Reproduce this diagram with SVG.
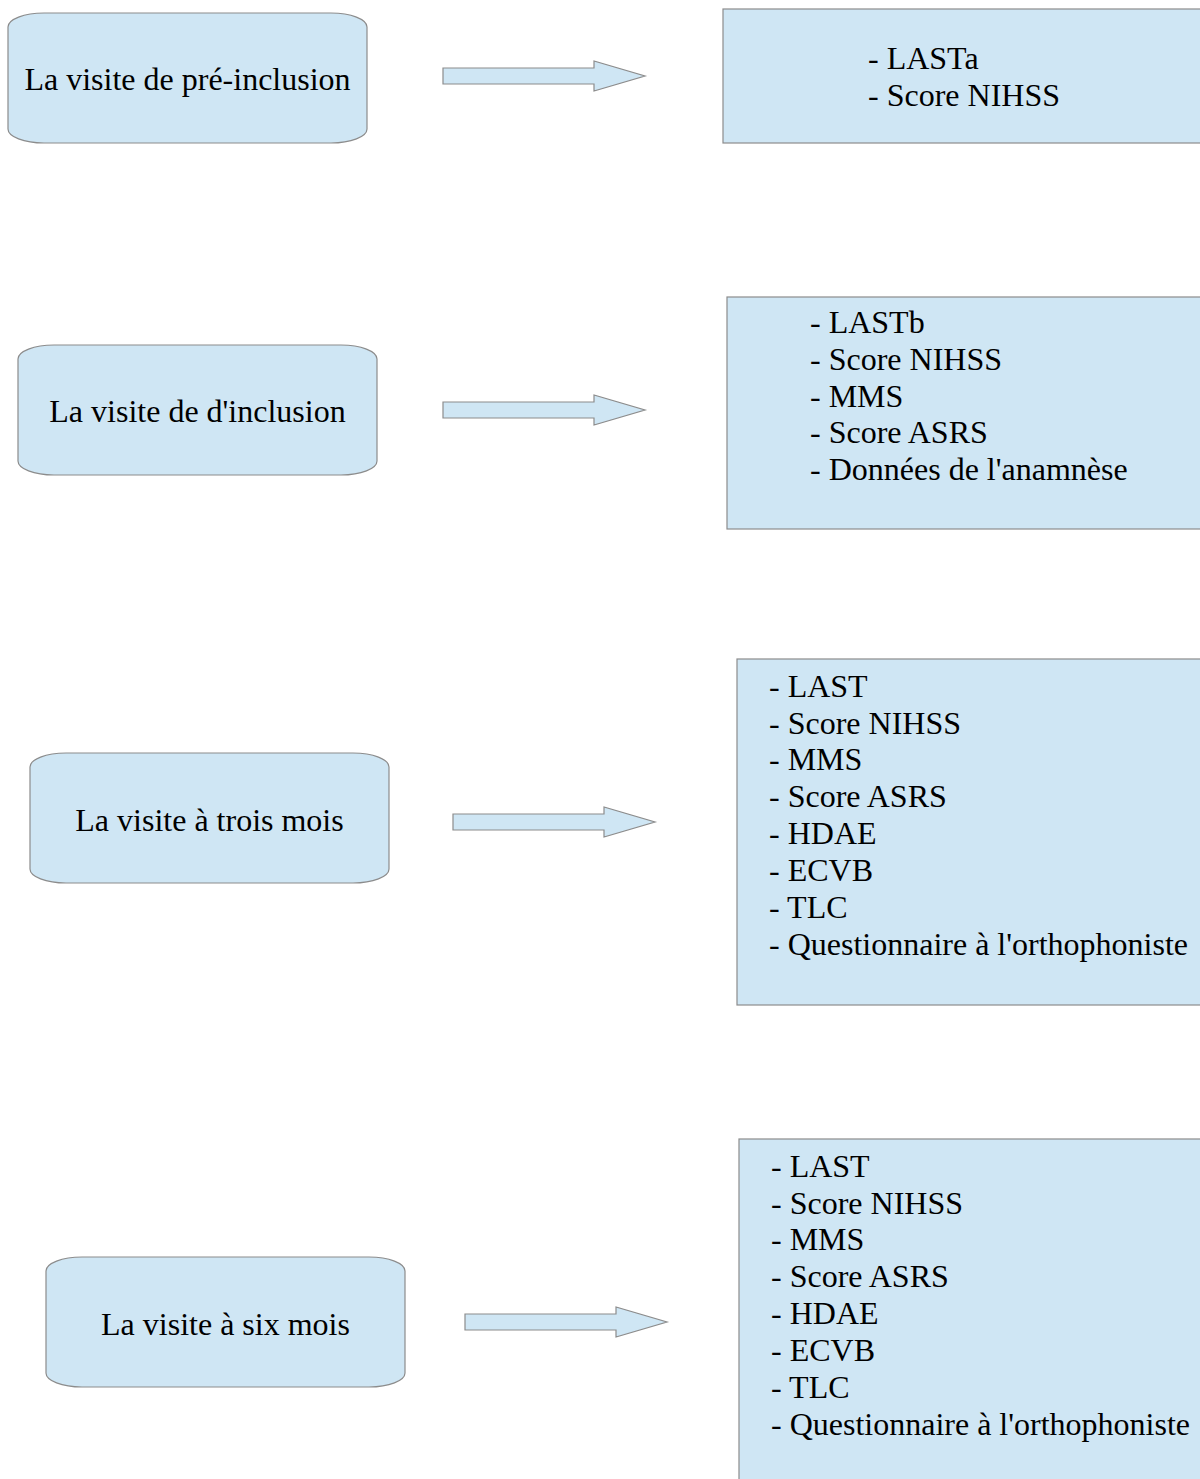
<svg xmlns="http://www.w3.org/2000/svg" width="1200" height="1479" viewBox="0 0 1200 1479">
<style>
.shape{fill:#cfe6f4;stroke:#8c8c8c;stroke-width:1.2}
text{font-family:"Liberation Serif","Times New Roman",serif;font-size:32px;fill:#000}
.c{text-anchor:middle}
</style>
<defs>
<path id="arr" d="M0,-8 H151 V-15 L202,0 L151,15 V8 H0 Z"/>
</defs>
<rect width="1200" height="1479" fill="#fff"/>
<g id="visit-pre-inclusion">
<path class="shape" d="M44,13 H331 A36,14 0 0 1 367,27 V129 A36,14 0 0 1 331,143 H44 A36,14 0 0 1 8,129 V27 A36,14 0 0 1 44,13 Z"/>
<text class="c" x="187.5" y="90">La visite de pré-inclusion</text>
</g>
<g id="visit-inclusion">
<path class="shape" d="M54,345 H341 A36,14 0 0 1 377,359 V461 A36,14 0 0 1 341,475 H54 A36,14 0 0 1 18,461 V359 A36,14 0 0 1 54,345 Z"/>
<text class="c" x="197.5" y="422">La visite de d'inclusion</text>
</g>
<g id="visit-3-months">
<path class="shape" d="M66,753 H353 A36,14 0 0 1 389,767 V869 A36,14 0 0 1 353,883 H66 A36,14 0 0 1 30,869 V767 A36,14 0 0 1 66,753 Z"/>
<text class="c" x="209.5" y="831">La visite à trois mois</text>
</g>
<g id="visit-6-months">
<path class="shape" d="M82,1257 H369 A36,14 0 0 1 405,1271 V1373 A36,14 0 0 1 369,1387 H82 A36,14 0 0 1 46,1373 V1271 A36,14 0 0 1 82,1257 Z"/>
<text class="c" x="225.5" y="1335">La visite à six mois</text>
</g>
<g id="list-pre-inclusion">
<rect class="shape" x="723" y="9" width="490" height="134"/>
<text x="868" y="69">- LASTa</text>
<text x="868" y="106">- Score NIHSS</text>
</g>
<g id="list-inclusion">
<rect class="shape" x="727" y="297" width="490" height="232"/>
<text x="810" y="333">- LASTb</text>
<text x="810" y="370">- Score NIHSS</text>
<text x="810" y="407">- MMS</text>
<text x="810" y="443">- Score ASRS</text>
<text x="810" y="480">- Données de l'anamnèse</text>
</g>
<g id="list-3-months">
<rect class="shape" x="737" y="659" width="490" height="346"/>
<text x="769" y="697">- LAST</text>
<text x="769" y="734">- Score NIHSS</text>
<text x="769" y="770">- MMS</text>
<text x="769" y="807">- Score ASRS</text>
<text x="769" y="844">- HDAE</text>
<text x="769" y="881">- ECVB</text>
<text x="769" y="918">- TLC</text>
<text x="769" y="955">- Questionnaire à l'orthophoniste</text>
</g>
<g id="list-6-months">
<rect class="shape" x="739" y="1139" width="490" height="360"/>
<text x="771" y="1177">- LAST</text>
<text x="771" y="1214">- Score NIHSS</text>
<text x="771" y="1250">- MMS</text>
<text x="771" y="1287">- Score ASRS</text>
<text x="771" y="1324">- HDAE</text>
<text x="771" y="1361">- ECVB</text>
<text x="771" y="1398">- TLC</text>
<text x="771" y="1435">- Questionnaire à l'orthophoniste</text>
</g>
<g id="connectors">
<use href="#arr" class="shape" transform="translate(443,76)"/>
<use href="#arr" class="shape" transform="translate(443,410)"/>
<use href="#arr" class="shape" transform="translate(453,822)"/>
<use href="#arr" class="shape" transform="translate(465,1322)"/>
</g>
</svg>
